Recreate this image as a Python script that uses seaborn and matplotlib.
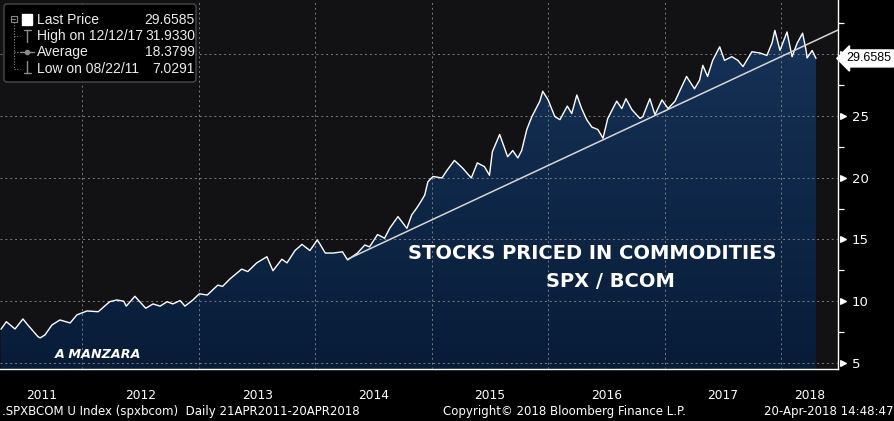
import numpy as np
import pandas as pd
import matplotlib
matplotlib.use("Agg")
import matplotlib.pyplot as plt
import matplotlib.dates as mdates
import matplotlib.transforms as mtransforms
from matplotlib.colors import LinearSegmentedColormap
from matplotlib.patches import FancyBboxPatch, Rectangle
import seaborn as sns

dates = [
    "2011-04-21", "2011-05-08", "2011-06-04", "2011-06-29", "2011-07-14", "2011-08-15",
    "2011-08-22", "2011-09-06", "2011-09-28", "2011-10-23", "2011-11-24", "2011-12-15",
    "2012-01-16", "2012-02-20", "2012-03-27", "2012-04-18", "2012-05-10", "2012-05-18",
    "2012-06-14", "2012-07-18", "2012-08-10", "2012-09-01", "2012-09-23", "2012-10-11",
    "2012-11-03", "2012-11-18", "2012-12-13",
    "2013-01-02", "2013-01-27", "2013-03-01", "2013-03-16", "2013-04-08", "2013-05-15",
    "2013-06-03", "2013-07-01", "2013-08-02", "2013-08-21", "2013-09-18", "2013-10-04",
    "2013-10-29", "2013-11-20", "2013-12-15",
    "2014-01-07", "2014-01-16", "2014-02-01", "2014-02-26", "2014-03-27", "2014-04-12",
    "2014-05-13", "2014-06-05", "2014-06-20", "2014-07-15", "2014-08-06", "2014-08-22",
    "2014-09-17", "2014-10-15", "2014-10-30", "2014-11-15", "2014-12-01", "2014-12-10",
    "2014-12-20",
    "2015-01-05", "2015-02-02", "2015-02-18", "2015-03-13", "2015-04-07", "2015-05-05",
    "2015-05-24", "2015-06-15", "2015-07-01", "2015-07-10", "2015-08-02", "2015-08-27",
    "2015-09-12", "2015-09-28", "2015-10-10", "2015-10-26", "2015-11-11", "2015-12-06",
    "2015-12-15",
    "2016-01-01", "2016-01-07", "2016-01-22", "2016-02-07", "2016-03-01", "2016-03-15",
    "2016-03-31", "2016-04-15", "2016-05-01", "2016-05-17", "2016-06-05", "2016-06-21",
    "2016-07-06", "2016-08-03", "2016-08-19", "2016-09-01", "2016-09-20", "2016-10-15",
    "2016-10-24", "2016-11-15", "2016-12-01", "2016-12-23",
    "2017-01-11", "2017-02-02", "2017-02-18", "2017-03-10", "2017-04-04", "2017-04-20",
    "2017-04-30", "2017-05-15", "2017-05-31", "2017-06-22", "2017-07-07", "2017-07-30",
    "2017-08-18", "2017-09-03", "2017-10-01", "2017-10-26", "2017-11-17", "2017-12-03",
    "2017-12-12", "2017-12-28",
    "2018-01-19", "2018-02-04", "2018-02-20", "2018-03-09", "2018-03-20", "2018-03-23",
    "2018-04-08", "2018-04-20",
]
values = [
    7.73, 8.34, 7.75, 8.56, 8.08, 7.13,
    7.03, 7.27, 8.08, 8.48, 8.24, 8.89,
    9.21, 9.15, 9.96, 10.10, 10.00, 9.60,
    10.40, 9.43, 9.78, 9.60, 9.96, 9.78,
    10.05, 9.60, 10.10,
    10.60, 10.50, 11.30, 11.20, 11.80, 12.60,
    12.40, 13.10, 13.60, 12.47, 13.40, 13.10,
    14.10, 14.60, 14.10,
    14.96, 14.60, 13.90, 13.90, 14.00, 13.34,
    13.90, 14.55, 14.40, 15.40, 15.10, 15.90,
    16.85, 15.90, 16.98, 17.55, 18.20, 18.60,
    19.68,
    20.10, 19.98, 20.60, 21.40, 20.80, 19.98,
    21.20, 20.90, 20.20, 22.10, 23.50, 21.70,
    22.20, 21.60, 22.20, 23.90, 24.95, 26.20,
    27.00,
    26.30, 25.90, 24.95, 24.70, 25.80, 25.20,
    26.70, 25.60, 24.70, 24.10, 23.90, 23.20,
    24.80, 26.20, 25.60, 26.40, 25.50, 24.80,
    24.95, 26.40, 25.10, 26.30,
    25.60, 26.20, 27.10, 28.20, 27.20, 27.90,
    29.10, 28.20, 29.50, 30.60, 29.50, 29.80,
    29.50, 29.00, 30.20, 30.10, 29.90, 30.90,
    31.93, 30.30,
    31.80, 29.80, 30.90, 31.70, 30.30, 29.70,
    30.30, 29.6585,
]

trend_dates = ["2014-04-12", "2018-06-28"]
trend_values = [13.4, 31.96]

year_labels = ["2011", "2012", "2013", "2014", "2015", "2016", "2017", "2018"]
y_ticks = [5, 10, 15, 20, 25, 30]
y_minor = [7.5, 12.5, 17.5, 22.5, 27.5, 32.5]

legend_labels = ["Last Price", "High on 12/12/17", "Average", "Low on 08/22/11"]
legend_values = ["29.6585", "31.9330", "18.3799", "7.0291"]
last_price = 29.6585

# ---- plotting ----
sns.set_style("dark")
plt.rcParams["font.family"] = ["DejaVu Sans"]
narrow = ["Liberation Sans", "DejaVu Sans"]

W, H = 895, 421
fig = plt.figure(figsize=(W / 100, H / 100), dpi=100, facecolor="black")
ax = fig.add_axes([0, 52 / H, 838 / W, 369 / H])
ax.set_facecolor("#121215")

df = pd.DataFrame({"date": pd.to_datetime(dates), "value": values})
x0, x1 = pd.Timestamp("2011-04-18"), pd.Timestamp("2018-06-28")
y0, y1 = 4.51, 34.39

# navy gradient area under the line
area = ax.fill_between(df["date"], df["value"], y0, color="none", lw=0)
cmap = LinearSegmentedColormap.from_list("navy", ["#081c38", "#17345a"])
grad = np.linspace(0, 1, 256).reshape(-1, 1)
im = ax.imshow(grad, cmap=cmap, origin="lower", aspect="auto", zorder=1,
               extent=[mdates.date2num(x0), mdates.date2num(x1), y0, y1])
im.set_clip_path(area.get_paths()[0], transform=ax.transData)

sns.lineplot(data=df, x="date", y="value", color="white", lw=1.0, ax=ax, zorder=4)
ax.plot(pd.to_datetime(trend_dates), trend_values, color="#d6d6d6", lw=1.1, zorder=4)

ax.set_xlim(x0, x1)
ax.set_ylim(y0, y1)
ax.set_xlabel("")
ax.set_ylabel("")

# grid
ax.set_axisbelow(False)
ax.grid(True, which="major", color="#7c7c80", lw=0.7, ls=(0, (2, 3)), zorder=3)

# x axis
ax.xaxis.set_major_locator(mdates.YearLocator())
ax.xaxis.set_minor_locator(mdates.MonthLocator(bymonth=[1, 4, 7, 10]))
ax.tick_params(axis="x", which="major", length=24, width=0.9, color="#8c8c8c",
               labelbottom=False, direction="out")
ax.tick_params(axis="x", which="minor", length=2.5, width=0.9, color="white",
               direction="out")
trans = mtransforms.blended_transform_factory(ax.transData, ax.transAxes)
for lab in year_labels:
    ys = max(pd.Timestamp(f"{lab}-01-01"), x0)
    ye = min(pd.Timestamp(f"{int(lab) + 1}-01-01"), x1)
    mid = ys + (ye - ys) / 2
    ax.text(mid, -0.071, lab, transform=trans, ha="center", va="center",
            color="white", fontsize=8.8)

# y axis on the right
ax.yaxis.tick_right()
ax.set_yticks(y_ticks)
ax.set_yticklabels([str(t) if t != 30 else "" for t in y_ticks])
ax.set_yticks(y_minor, minor=True)
ax.tick_params(axis="y", which="major", length=0, pad=10, labelcolor="white",
               labelsize=9.5)
ax.tick_params(axis="y", which="minor", length=4, width=0.9, color="white",
               direction="out")
ax.scatter([1.006] * len(y_ticks), y_ticks, marker=">", s=16, color="white",
           transform=ax.get_yaxis_transform(), clip_on=False, zorder=6)

for s in ["top", "left"]:
    ax.spines[s].set_visible(False)
for s in ["right", "bottom"]:
    ax.spines[s].set_color("white")
    ax.spines[s].set_linewidth(1.0)

# annotations inside the plot
ax.text(0.707, 0.312, "STOCKS PRICED IN COMMODITIES", transform=ax.transAxes,
        ha="center", va="center", color="white", fontsize=14, fontweight="bold",
        zorder=7)
ax.text(0.729, 0.238, "SPX / BCOM", transform=ax.transAxes, ha="center",
        va="center", color="white", fontsize=14, fontweight="bold", zorder=7)
ax.text(0.066, 0.038, "A MANZARA", transform=ax.transAxes, ha="left", va="center",
        color="white", fontsize=9.2, fontweight="bold", fontstyle="italic", zorder=7)

# overlay in pixel coordinates for legend box, price tag and footer
ov = fig.add_axes([0, 0, 1, 1], zorder=10)
ov.set_xlim(0, W)
ov.set_ylim(H, 0)
ov.axis("off")
ov.patch.set_visible(False)

ov.add_patch(FancyBboxPatch((4, 4), 192, 78, boxstyle="round,pad=0,rounding_size=3",
                            fc="black", ec="#4a4a4a", lw=1))
rows_y = [20, 36, 52, 69]
gray = "#8a8a8a"
ov.plot([14, 14], [22, 69], color=gray, lw=0.8, ls=(0, (1, 1.5)))
for ry in rows_y[1:]:
    ov.plot([14, 20], [ry, ry], color=gray, lw=0.8, ls=(0, (1, 1.5)))
ov.add_patch(Rectangle((11, 15.5), 6, 6, fill=False, ec=gray, lw=0.8))
ov.plot([12.5, 15.5], [18.5, 18.5], color=gray, lw=0.8)
ov.add_patch(Rectangle((22, 14), 10, 11, fc="white", ec="white"))
ov.plot([24, 31], [30, 30], color=gray, lw=1)
ov.plot([27.5, 27.5], [30, 42], color=gray, lw=1)
ov.plot([20, 34], [52, 52], color=gray, lw=1)
ov.plot([27], [52], marker="o", ms=3, color=gray)
ov.plot([27.5, 27.5], [61, 73], color=gray, lw=1)
ov.plot([24, 31], [73, 73], color=gray, lw=1)
for lab, val, ry in zip(legend_labels, legend_values, rows_y):
    ov.text(37, ry, lab, color="#ececec", fontsize=10, va="center", ha="left",
            family=narrow)
    ov.text(195, ry, val, color="#ececec", fontsize=10, va="center", ha="right",
            family=narrow)

# last price tag on the right axis
tag_y = ax.transData.transform((0, last_price))[1]
ov.text(891, H - tag_y, f"{last_price:.4f}", color="black", fontsize=9,
        va="center", ha="right", family=narrow,
        bbox=dict(boxstyle="larrow,pad=0.2", fc="white", ec="white"))

# footer
ov.text(2, 412, ".SPXBCOM U Index (spxbcom)  Daily 21APR2011-20APR2018",
        color="white", fontsize=8.5, va="center", ha="left")
ov.text(443, 412, "Copyright\u00a9 2018 Bloomberg Finance L.P.", color="white",
        fontsize=8.5, va="center", ha="left")
ov.text(894, 412, "20-Apr-2018 14:48:47", color="white", fontsize=8.5,
        va="center", ha="right")

fig.savefig("out.png", dpi=100, facecolor="black")
